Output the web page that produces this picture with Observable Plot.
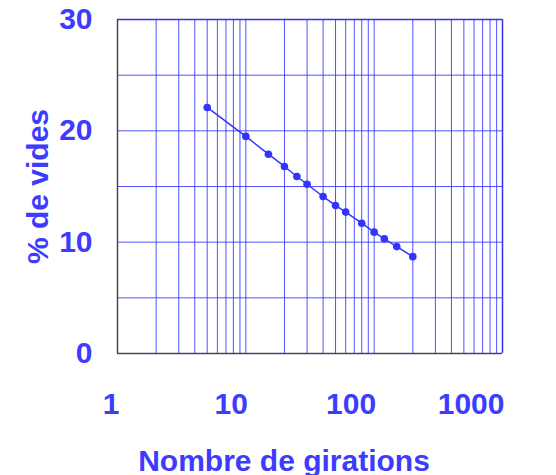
<!DOCTYPE html>
<html>
<head>
<meta charset="utf-8">
<script src="https://cdn.jsdelivr.net/npm/d3@7"></script>
<script src="https://cdn.jsdelivr.net/npm/@observablehq/plot@0.6"></script>
<style>
  html, body { margin: 0; padding: 0; background: #fff; }
  #chart svg { display: block; }
</style>
</head>
<body>
<div id="chart"></div>
<script>
const girations = [5, 10, 15, 20, 25, 30, 40, 50, 60, 80, 100, 120, 150, 200];
const vides = [22.1, 19.5, 17.9, 16.8, 15.9, 15.2, 14.1, 13.3, 12.7, 11.7, 10.9, 10.3, 9.6, 8.7];
const xTicks = [1, 10, 100, 1000];
const xGrid = [2,3,4,5,6,7,8,9,10,20,30,40,50,60,70,80,90,100,200,300,400,500,600,700,800,900];
const yTicks = [0, 10, 20, 30];
const yGrid = [5, 10, 15, 20, 25];
const xTitle = "Nombre de girations";
const yTitle = "% de vides";

const data = girations.map((g, i) => ({g, v: vides[i]}));
const blue = "#3c3cff";
const font = "'Liberation Sans', Arial, sans-serif";

const chart = Plot.plot({
  width: 556,
  height: 475,
  marginLeft: 117,
  marginRight: 54,
  marginTop: 19,
  marginBottom: 122,
  style: {fontFamily: font, background: "#fff"},
  x: {type: "log", domain: [1, 1000]},
  y: {domain: [0, 30]},
  marks: [
    Plot.gridX(xGrid, {stroke: "#3333ff", strokeOpacity: 0.85, strokeWidth: 1}),
    Plot.gridY(yGrid, {stroke: "#3333ff", strokeOpacity: 0.85, strokeWidth: 1}),
    Plot.ruleX([1000], {stroke: "#3333ee", strokeWidth: 1.5}),
    Plot.ruleY([30], {stroke: "#3333ee", strokeWidth: 1.5}),
    Plot.ruleX([1], {stroke: "#44445a", strokeWidth: 1.5}),
    Plot.ruleY([0], {stroke: "#44445a", strokeWidth: 1.5}),
    Plot.axisX(xTicks, {
      tickSize: 0, tickPadding: 39, fontSize: 30, fontWeight: "bold", fill: blue,
      textAnchor: "end", dx: 2, label: null, tickFormat: d => String(d)
    }),
    Plot.axisY(yTicks, {
      tickSize: 0, tickPadding: 25, fontSize: 30, fontWeight: "bold", fill: blue,
      label: null, tickFormat: d => String(d)
    }),
    Plot.line(data, {x: "g", y: "v", stroke: "#3333ff", strokeWidth: 1.5}),
    Plot.dot(data, {x: "g", y: "v", r: 3.8, fill: "#3333ff", stroke: "none"}),
    Plot.text([xTitle], {frameAnchor: "bottom", dx: -26, dy: 117, fontSize: 30, fontWeight: "bold", fill: blue}),
    Plot.text([yTitle], {frameAnchor: "left", textAnchor: "middle", dx: -79, rotate: -90, fontSize: 30, fontWeight: "bold", fill: blue})
  ]
});
document.getElementById("chart").appendChild(chart);
</script>
</body>
</html>
